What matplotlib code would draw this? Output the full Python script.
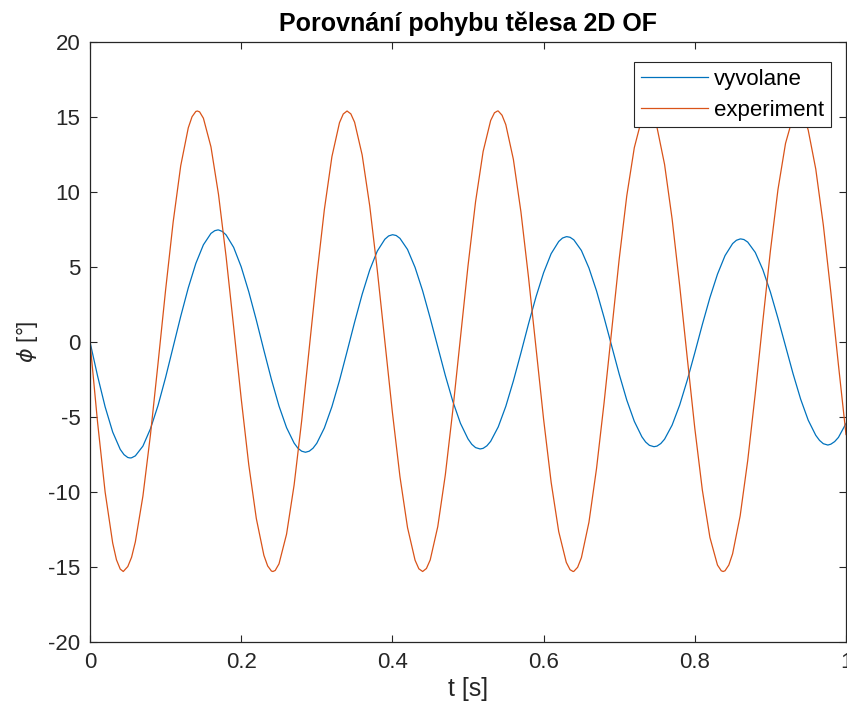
import matplotlib
matplotlib.use("Agg")
import matplotlib.pyplot as plt

# cas [s], krok 0.01
t = [i / 100 for i in range(101)]

# vyvolane (modra)
vyvolane = [
    0.00, -2.26, -4.32, -6.00, -7.16, -7.70, -7.59, -6.94, -5.78, -4.23,
    -2.36, -0.34, 1.71, 3.61, 5.24, 6.48, 7.24, 7.47, 7.14, 6.31,
    5.01, 3.35, 1.46, -0.55, -2.50, -4.27, -5.71, -6.74, -7.28, -7.28,
    -6.75, -5.73, -4.31, -2.57, -0.64, 1.32, 3.18, 4.80, 6.06, 6.85,
    7.15, 6.91, 6.17, 4.97, 3.41, 1.59, -0.33, -2.23, -3.97, -5.42,
    -6.46, -7.04, -7.09, -6.62, -5.66, -4.29, -2.60, -0.73, 1.20, 3.02,
    4.62, 5.89, 6.70, 7.02, 6.81, 6.10, 4.93, 3.41, 1.63, -0.26,
    -2.14, -3.87, -5.29, -6.32, -6.89, -6.94, -6.48, -5.54, -4.20, -2.55,
    -0.72, 1.17, 2.96, 4.52, 5.76, 6.56, 6.87, 6.66, 5.97, 4.82,
    3.33, 1.58, -0.27, -2.12, -3.81, -5.21, -6.22, -6.78, -6.81, -6.36,
    -5.43,
]
# doplnujici body u extremu (vyvolane)
t_vyv_extra = [0.045, 0.053, 0.055, 0.165, 0.169, 0.175, 0.275, 0.285, 0.295,
               0.395, 0.4005, 0.405, 0.505, 0.516, 0.525, 0.625, 0.631, 0.635,
               0.735, 0.746, 0.755, 0.855, 0.861, 0.865, 0.965, 0.976, 0.985]
vyv_extra = [-7.51, -7.73, -7.72, 7.42, 7.47, 7.37, -7.08, -7.35, -7.08,
             7.07, 7.15, 7.10, -6.82, -7.13, -6.92, 6.93, 7.02, 6.98,
             -6.67, -6.98, -6.77, 6.78, 6.87, 6.83, -6.56, -6.87, -6.64]

# experiment (oranzova)
experiment = [
    0.00, -5.35, -10.00, -13.40, -15.14, -14.97, -13.32, -10.27, -6.17, -1.42,
    3.47, 8.00, 11.75, 14.28, 15.37, 14.92, 13.01, 9.83, 5.70, 1.01,
    -3.77, -8.18, -11.77, -14.22, -15.27, -14.79, -12.81, -9.53, -5.25, -0.43,
    4.41, 8.83, 12.36, 14.62, 15.40, 14.65, 12.47, 9.08, 4.79, 0.05,
    -4.69, -8.98, -12.37, -14.55, -15.30, -14.53, -12.31, -8.86, -4.51, 0.30,
    5.07, 9.35, 12.70, 14.77, 15.40, 14.49, 12.18, 8.68, 4.33, -0.43,
    -5.15, -9.36, -12.64, -14.69, -15.29, -14.38, -12.01, -8.44, -4.05, 0.77,
    5.53, 9.74, 12.96, 14.91, 15.37, 14.31, 11.84, 8.20, 3.76, -1.05,
    -5.75, -9.88, -13.03, -14.87, -15.25, -14.12, -11.59, -7.90, -3.43, 1.39,
    6.07, 10.16, 13.24, 15.03, 15.34, 14.13, 11.53, 7.80, 3.29, -1.53,
    -6.17,
]
# doplnujici body u extremu (experiment)
t_exp_extra = [0.035, 0.044, 0.055, 0.135, 0.142, 0.145, 0.235, 0.242, 0.245,
               0.335, 0.345, 0.435, 0.445, 0.535, 0.539, 0.545,
               0.635, 0.639, 0.645, 0.735, 0.738, 0.745,
               0.835, 0.8375, 0.845, 0.935, 0.937, 0.945]
exp_extra = [-14.52, -15.30, -14.35, 15.02, 15.40, 15.34, -14.93, -15.30, -15.23,
             15.20, 15.21, -15.12, -15.10, 15.28, 15.40, 15.12,
             -15.18, -15.30, -15.02, 15.33, 15.40, 15.03,
             -15.25, -15.30, -14.87, 15.37, 15.40, 14.91]

vyv_pts = sorted(zip(t + t_vyv_extra, vyvolane + vyv_extra))
exp_pts = sorted(zip(t + t_exp_extra, experiment + exp_extra))

plt.rcParams['font.family'] = ['Liberation Sans', 'DejaVu Sans']
plt.rcParams['axes.unicode_minus'] = False

fig = plt.figure(figsize=(8.47, 7.15), dpi=100)
ax = fig.add_axes([90 / 847, 73 / 715, 756 / 847, 600 / 715])

ax.plot([p[0] for p in vyv_pts], [p[1] for p in vyv_pts],
        color='#0072BD', linewidth=0.9, label='vyvolane')
ax.plot([p[0] for p in exp_pts], [p[1] for p in exp_pts],
        color='#D95319', linewidth=0.9, label='experiment')

ax.set_xlim(0, 1)
ax.set_ylim(-20, 20)
ax.set_xticks([0, 0.2, 0.4, 0.6, 0.8, 1])
ax.set_xticklabels(['0', '0.2', '0.4', '0.6', '0.8', '1'])
ax.set_yticks(range(-20, 21, 5))

edge = '#262626'
for s in ax.spines.values():
    s.set_color(edge)
    s.set_linewidth(0.9)
ax.tick_params(direction='in', length=5, width=0.8, top=True, right=True,
               labelsize=16, colors=edge, pad=7)

ax.set_title('Porovnání pohybu tělesa 2D OF', fontsize=18, fontweight='bold', pad=8)
ax.set_xlabel('t [s]', fontsize=18, color=edge, labelpad=3)
ax.set_ylabel(r'$\phi$ [°]', fontsize=16, color=edge)
ax.yaxis.set_label_coords(-0.066, 0.5)

leg = ax.legend(loc='upper right', bbox_to_anchor=(831 / 847, 1 - 62 / 715),
                bbox_transform=fig.transFigure, fontsize=16, handlelength=3.0,
                handletextpad=0.3, borderpad=0.3, labelspacing=0.45,
                fancybox=False, framealpha=1, borderaxespad=0)
leg.get_frame().set_edgecolor(edge)
leg.get_frame().set_linewidth(0.8)

fig.savefig('out.png', dpi=100)
